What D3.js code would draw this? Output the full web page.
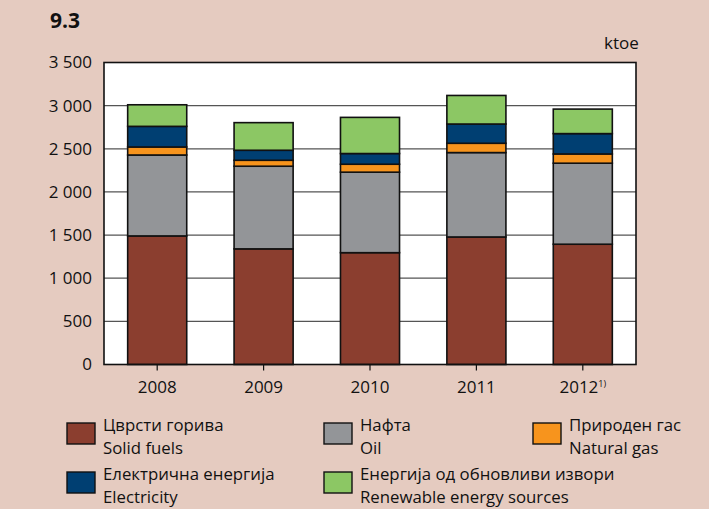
<!DOCTYPE html>
<html>
<head>
<meta charset="utf-8">
<script src="https://cdn.jsdelivr.net/npm/d3@7"></script>
<style>
  html, body { margin: 0; padding: 0; background: #e5cbc0; }
  svg { display: block; }
  text { font-family: "Open Sans", "Noto Sans", sans-serif; fill: #111; }
</style>
</head>
<body>
<svg id="chart" width="709" height="509"></svg>
<script>
// Final energy consumption by fuel, ktoe
const years = ["2008", "2009", "2010", "2011", "2012"];
const yearNotes = ["", "", "", "", "1)"];
const solidFuels = [1490, 1340, 1296, 1478, 1394];
const oil = [938, 958, 933, 978, 939];
const naturalGas = [93, 69, 92, 108, 107];
const electricity = [239, 116, 124, 223, 236];
const renewables = [250, 320, 419, 331, 284];
const yTicks = [0, 500, 1000, 1500, 2000, 2500, 3000, 3500];

const seriesKeys = ["solid", "oil", "gas", "elec", "renew"];
const seriesColors = ["#8b3e2f", "#939598", "#f7941d", "#003f72", "#8cc764"];
const seriesNamesMk = ["Цврсти горива", "Нафта", "Природен гас", "Електрична енергија", "Енергија од обновливи извори"];
const seriesNamesEn = ["Solid fuels", "Oil", "Natural gas", "Electricity", "Renewable energy sources"];

const rows = years.map((y, i) => ({
  year: y,
  solid: solidFuels[i],
  oil: oil[i],
  gas: naturalGas[i],
  elec: electricity[i],
  renew: renewables[i]
}));

const svg = d3.select("#chart");
const plot = { left: 104, right: 636, top: 62.5, bottom: 364.5 };

const x = d3.scaleBand().domain(years).range([plot.left, plot.right]).paddingInner(0.445).paddingOuter(0.2225);
const y = d3.scaleLinear().domain([0, 3500]).range([plot.bottom, plot.top]);

// title
svg.append("text").attr("x", 50).attr("y", 28)
  .style("font-size", "21px").style("font-weight", "bold").text("9.3");

// unit
svg.append("text").attr("x", 604).attr("y", 49)
  .style("font-size", "17px").text("ktoe");

// plot background
svg.append("rect")
  .attr("x", plot.left).attr("y", plot.top)
  .attr("width", plot.right - plot.left).attr("height", plot.bottom - plot.top)
  .attr("fill", "#fff");

// gridlines
svg.append("g").selectAll("line").data(yTicks.filter(d => d > 0 && d < 3500)).join("line")
  .attr("x1", plot.left).attr("x2", plot.right)
  .attr("y1", d => y(d)).attr("y2", d => y(d))
  .attr("stroke", "#555").attr("stroke-width", 1.2);

// y axis labels
const fmt = d => d3.format(",")(d).replace(/,/g, " ");
const yAxis = d3.axisLeft(y).tickValues(yTicks).tickFormat(fmt).tickSize(0).tickPadding(12);
const gy = svg.append("g").attr("transform", `translate(${plot.left},0)`).call(yAxis);
gy.select(".domain").remove();
gy.selectAll("text").style("font-size", "17px").style("font-family", "'Open Sans', sans-serif").attr("fill", "#111");

// stacked bars
const stack = d3.stack().keys(seriesKeys);
const layers = stack(rows);
svg.append("g").selectAll("g").data(layers).join("g")
  .attr("fill", (d, i) => seriesColors[i])
  .selectAll("rect").data(d => d).join("rect")
  .attr("x", d => x(d.data.year))
  .attr("width", x.bandwidth())
  .attr("y", d => y(d[1]))
  .attr("height", d => y(d[0]) - y(d[1]))
  .attr("stroke", "#111").attr("stroke-width", 1.6);

// plot frame
svg.append("rect")
  .attr("x", plot.left).attr("y", plot.top)
  .attr("width", plot.right - plot.left).attr("height", plot.bottom - plot.top)
  .attr("fill", "none").attr("stroke", "#111").attr("stroke-width", 1.6);

// x axis
const xAxis = d3.axisBottom(x).tickSize(6).tickSizeOuter(0).tickPadding(10);
const gx = svg.append("g").attr("transform", `translate(0,${plot.bottom})`).call(xAxis);
gx.select(".domain").remove();
gx.selectAll("line").attr("stroke", "#111").attr("stroke-width", 1.2);
gx.selectAll("text").style("font-size", "17px").style("font-family", "'Open Sans', sans-serif").attr("fill", "#111");
gx.selectAll(".tick text").each(function(d, i) {
  if (yearNotes[i]) {
    d3.select(this).append("tspan")
      .attr("dy", "-0.6em").style("font-size", "9px").text(yearNotes[i]);
  }
});

// legend
const legendPos = [
  { x: 67, y: 423 }, { x: 324, y: 423 }, { x: 533, y: 423 },
  { x: 67, y: 472 }, { x: 324, y: 472 }
];
const lg = svg.append("g").selectAll("g").data(seriesKeys).join("g")
  .attr("transform", (d, i) => `translate(${legendPos[i].x},${legendPos[i].y})`);
lg.append("rect").attr("width", 28).attr("height", 21)
  .attr("fill", (d, i) => seriesColors[i]).attr("stroke", "#111").attr("stroke-width", 1.4);
lg.append("text").attr("x", 36).attr("y", 7.5).style("font-size", "16.8px")
  .text((d, i) => seriesNamesMk[i]);
lg.append("text").attr("x", 36).attr("y", 30.5).style("font-size", "16.8px")
  .text((d, i) => seriesNamesEn[i]);
</script>
</body>
</html>
